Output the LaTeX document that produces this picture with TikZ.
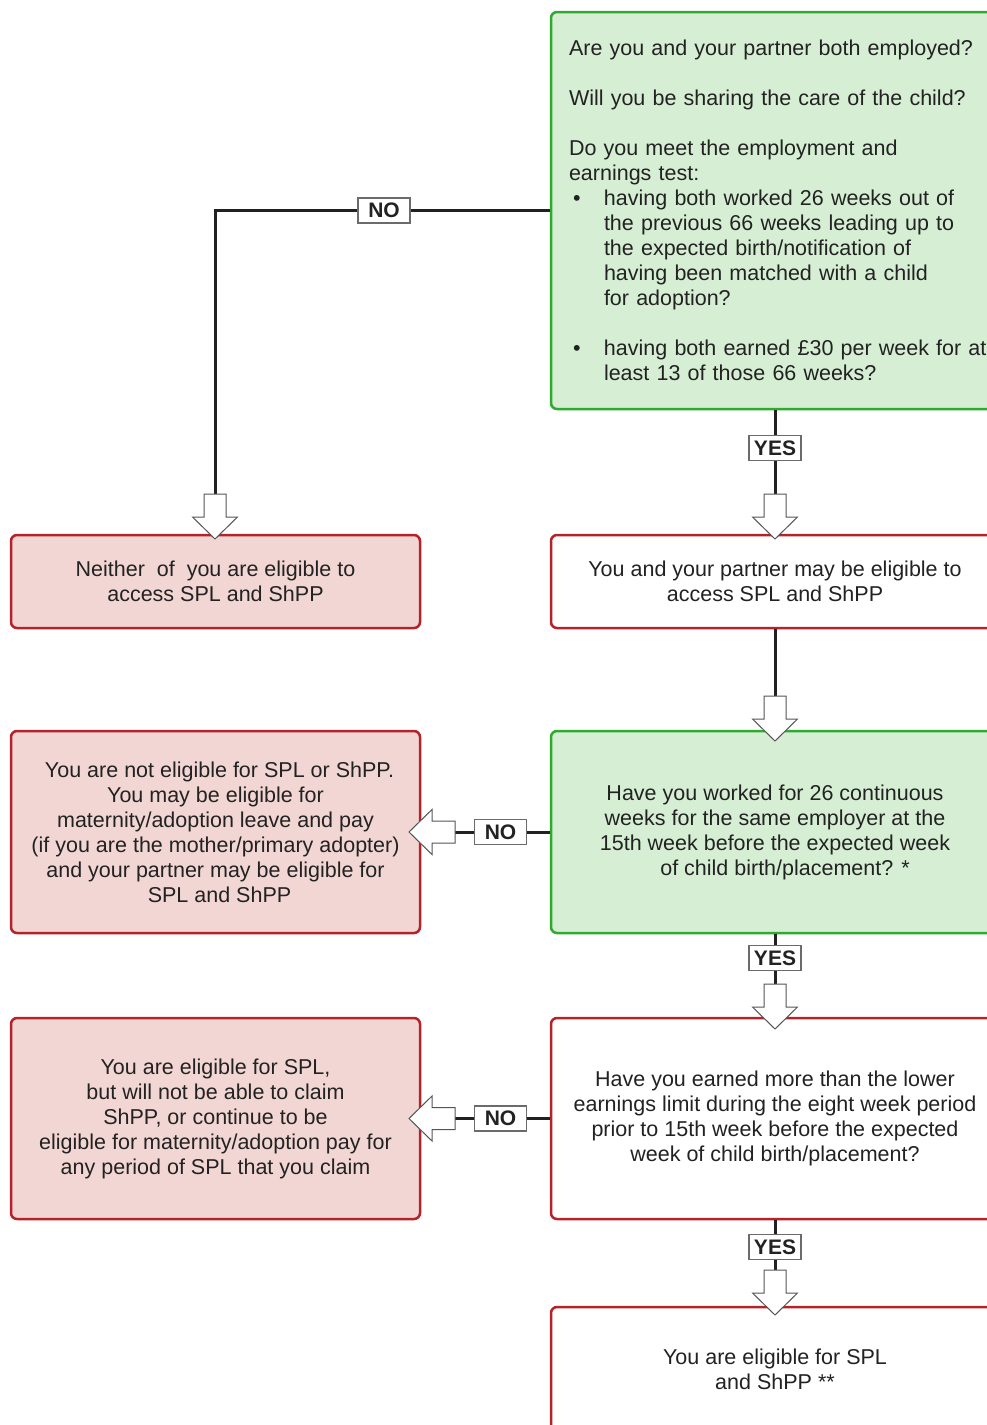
\documentclass[tikz,border=0pt]{standalone}
\usepackage{fontspec}
\setmainfont{Liberation Sans}
\definecolor{gborder}{HTML}{2EAA2E}
\definecolor{gfill}{HTML}{D6EFD4}
\definecolor{rborder}{HTML}{B5232A}
\definecolor{rfill}{HTML}{F2D6D3}
\definecolor{txt}{HTML}{222222}
\definecolor{lblgray}{HTML}{6B6B6B}
\definecolor{arrgray}{HTML}{555555}
\newcommand\bulx{\makebox[35pt][l]{\hspace{4pt}\textbullet}}
\newcommand\indx{\hspace*{35pt}}
\tikzset{
  boxbase/.style={rectangle, rounded corners=6pt, line width=2.5pt, text=txt,
    font=\fontsize{21.5pt}{25pt}\selectfont, align=center, inner sep=0pt},
  greenbox/.style={boxbase, draw=gborder, fill=gfill},
  redbox/.style={boxbase, draw=rborder, fill=rfill},
  whitebox/.style={boxbase, draw=rborder, fill=white},
  leftw/.style={minimum width=409pt},
  rightw/.style={minimum width=448pt},
  conn/.style={draw=black!87, line width=3pt},
  lbl/.style={draw=lblgray, fill=white, line width=1.2pt, minimum width=52pt,
    minimum height=25pt, inner sep=0pt, font=\fontsize{21pt}{25pt}\selectfont\bfseries, text=txt},
  harrowstyle/.style={draw=arrgray, fill=white, line width=1pt, line join=miter},
  downarrow/.pic={\path[harrowstyle] (-11,0) -- (11,0) -- (11,23) -- (22.5,23) -- (0,45) -- (-22.5,23) -- (-11,23) -- cycle;},
  leftarrow/.pic={\path[harrowstyle] (0,-11) -- (-23,-11) -- (-23,-22.5) -- (-46,0) -- (-23,22.5) -- (-23,11) -- (0,11) -- cycle;}
}
\begin{document}
\begin{tikzpicture}[x=1pt,y=-1pt]
\useasboundingbox (0,0) rectangle (987,1425);
\begin{scope}
\clip (0,0) rectangle (987,1425);
% boxes
\node[greenbox, rightw, minimum height=397pt, text width=412pt, inner xsep=18pt, align=left] (q1) at (775,210.5) {%
Are you and your partner both employed?\\[25pt]
Will you be sharing the care of the child?\\[25pt]
Do you meet the employment and\\
earnings test:\\
\bulx having both worked 26 weeks out of\\
\indx the previous 66 weeks leading up to\\
\indx the expected birth/notification of\\
\indx having been matched with a child\\
\indx for adoption?\\[25pt]
\mbox{\bulx having both earned £30 per week for at}\\
\indx least 13 of those 66 weeks?};
\node[redbox, leftw, minimum height=93pt] (r1) at (215.5,581.5) {Neither\ \ of\ \ you are eligible to\\access SPL and ShPP};
\node[whitebox, rightw, minimum height=93pt] (b2) at (775,581.5) {You and your partner may be eligible to\\access SPL and ShPP};
\node[redbox, leftw, minimum height=202pt] (r2) at (215.5,832) {\hspace*{8pt}You are not eligible for SPL or ShPP.\\You may be eligible for\\maternity/adoption leave and pay\\(if you are the mother/primary adopter)\\and your partner may be eligible for\\\hspace*{8pt}SPL and ShPP};
\node[greenbox, rightw, minimum height=202pt] (q2) at (775,832) {Have you worked for 26 continuous\\weeks for the same employer at the\\15th week before the expected week\\\hspace*{20pt}of child birth/placement? *};
\node[redbox, leftw, minimum height=201pt] (r3) at (215.5,1118.5) {You are eligible for SPL,\\but will not be able to claim\\ShPP, or continue to be\\eligible for maternity/adoption pay for\\any period of SPL that you claim};
\node[whitebox, rightw, minimum height=201pt] (q3) at (775,1118.5) {Have you earned more than the lower\\earnings limit during the eight week period\\prior to 15th week before the expected\\week of child birth/placement?};
\node[whitebox, rightw, minimum height=125pt] (b4) at (775,1369.5) {You are eligible for SPL\\and ShPP **};
% arrow start coordinates
\coordinate (a1) at (215,494);
\coordinate (a2) at (775,494);
\coordinate (a3) at (775,696);
\coordinate (a4) at (455,832);
\coordinate (a5) at (775,984);
\coordinate (a6) at (455,1118.5);
\coordinate (a7) at (775,1270);
% connectors
\draw[conn] (q1.west) -| (a1);
\draw[conn] (q1.south) -- (a2);
\draw[conn] (b2.south) -- (a3);
\draw[conn] (q2.west) -- (a4);
\draw[conn] (q2.south) -- (a5);
\draw[conn] (q3.west) -- (a6);
\draw[conn] (q3.south) -- (a7);
% hollow arrows
\pic at (a1) {downarrow};
\pic at (a2) {downarrow};
\pic at (a3) {downarrow};
\pic at (a4) {leftarrow};
\pic at (a5) {downarrow};
\pic at (a6) {leftarrow};
\pic at (a7) {downarrow};
% labels
\node[lbl] (no1) at (384,210.5) {NO};
\node[lbl] (yes1) at (775,448) {YES};
\node[lbl] (no2) at (500.5,832) {NO};
\node[lbl] (yes2) at (775,958) {YES};
\node[lbl] (no3) at (500.5,1118.5) {NO};
\node[lbl] (yes3) at (775,1247) {YES};
\end{scope}
\end{tikzpicture}
\end{document}
